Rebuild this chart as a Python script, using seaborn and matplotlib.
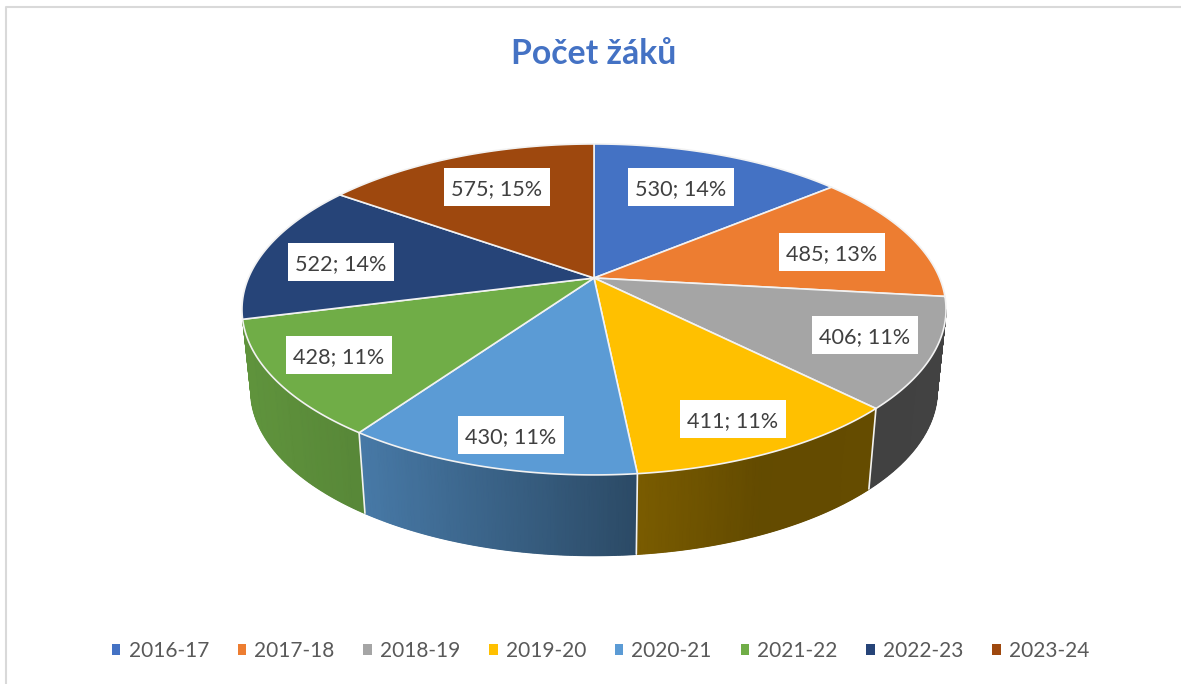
import numpy as np
import matplotlib
matplotlib.use("Agg")
import matplotlib.pyplot as plt
from matplotlib.collections import LineCollection
from matplotlib.patches import Patch, Rectangle
import seaborn as sns

# Data
years = ["2016-17", "2017-18", "2018-19", "2019-20", "2020-21", "2021-22", "2022-23", "2023-24"]
pupils = [530, 485, 406, 411, 430, 428, 522, 575]
title = "Počet žáků"

# Style
hex_colors = ["#4472C4", "#ED7D31", "#A5A5A5", "#FFC000", "#5B9BD5", "#70AD47", "#264478", "#9E480E"]
text_color = "#404040"
label_centers = [(681, 187), (832, 252), (865, 335), (733, 419), (511, 435), (339, 355), (341, 262), (497, 187)]

sns.set_theme(style="white")
plt.rcParams["font.family"] = ["Lato", "DejaVu Sans"]
colors = sns.color_palette(hex_colors)

fig = plt.figure(figsize=(11.81, 6.84), dpi=100)
ax = fig.add_axes([0, 0, 1, 1])
ax.set_xlim(0, 1181)
ax.set_ylim(684, 0)
ax.axis("off")

# Perspective of the tilted disc, in pixels of the picture
cx, cy = 594, 278
sx, sy, tilt = 345.6, 159.5, 0.19
depth, shrink = 80.5, 0.975


def top_rim(theta):
    den = 1 + tilt * np.cos(theta)
    return cx + sx * np.sin(theta) / den, cy - sy * np.cos(theta) / den


def low_rim(theta):
    x, y = top_rim(theta)
    return cx + (x - cx) * shrink, y + depth


def side_shade(x):
    return np.interp(x, [243, 360, 636, 760, 946], [0.85, 0.78, 0.48, 0.39, 0.40])


values = np.array(pupils, dtype=float)
total = values.sum()
edges = np.concatenate([[0], np.cumsum(values)]) / total * 2 * np.pi

# Side wall, only the arc that faces the viewer
front_a = np.arccos(-tilt)
front_b = 2 * np.pi - front_a
for i in range(len(values)):
    a, b = max(edges[i], front_a), min(edges[i + 1], front_b)
    # a sliver at the silhouette does not show in the chart
    if b - a < 0.1:
        continue
    arc = np.linspace(a, b, 80)
    x_top, y_top = top_rim(arc)
    x_low, y_low = low_rim(arc)
    shade = side_shade(x_top)
    cmap = sns.blend_palette(["#000000", colors[i]], as_cmap=True)
    ax.pcolormesh(np.vstack([x_top, x_low]), np.vstack([y_top, y_low]), np.vstack([shade, shade]),
                  shading="gouraud", cmap=cmap, vmin=0, vmax=1, zorder=1)
    # the mesh is not antialiased, a line in the same colours smooths its outer edge
    pts = np.column_stack([x_low, y_low])
    rim = LineCollection(np.stack([pts[:-1], pts[1:]], axis=1), cmap=cmap, linewidths=1.2, zorder=1)
    rim.set_array(shade[:-1])
    rim.set_clim(0, 1)
    ax.add_collection(rim)

# Lines between the side parts
for e in edges[1:]:
    if np.cos(e) < -0.3:
        xa, ya = top_rim(e)
        xb, yb = low_rim(e)
        ax.plot([xa, xb], [ya, yb], color="#f2f2f2", lw=1.2, zorder=2)

# Top of the disc
for i in range(len(values)):
    arc = np.linspace(edges[i], edges[i + 1], 120)
    xs, ys = top_rim(arc)
    ax.fill(np.r_[cx, xs], np.r_[cy, ys], facecolor=colors[i], edgecolor="#f2f2f2", lw=1.2,
            joinstyle="round", zorder=3)

# Data labels
for v, (lx, ly) in zip(pupils, label_centers):
    ax.add_patch(Rectangle((lx - 53, ly - 19), 106, 38, facecolor="white", edgecolor="none", zorder=4))
    ax.text(lx, ly, f"{v}; {round(100 * v / total)}%", color=text_color, fontsize=15.6,
            ha="center", va="center_baseline", zorder=5)

ax.text(594, 51, title, color="#4472C4", fontsize=24.3, fontweight="bold",
        ha="center", va="center_baseline")

handles = [Patch(facecolor=c, edgecolor="none") for c in colors]
ax.legend(handles, years, ncol=8, loc="center", bbox_to_anchor=(600.5, 651), bbox_transform=ax.transData,
          frameon=False, fontsize=15, labelcolor="#595959", handlelength=0.41, handleheight=0.41,
          handletextpad=0.39, columnspacing=1.38, borderpad=0, borderaxespad=0)

# Chart frame
ax.plot([6, 6, 1181], [684, 7, 7], color="#d9d9d9", lw=1.5, zorder=0)

fig.savefig("out.png", dpi=100)
